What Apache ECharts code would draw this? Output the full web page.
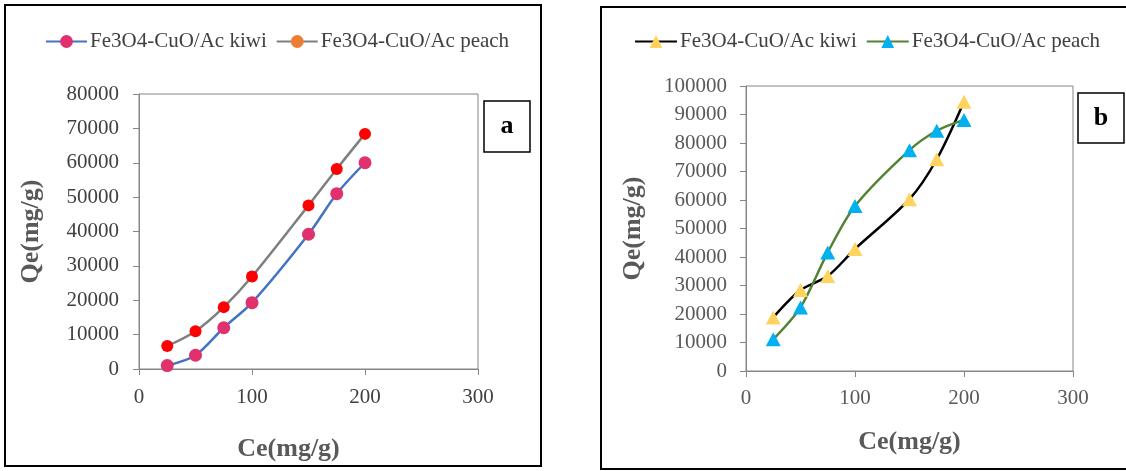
<!DOCTYPE html>
<html>
<head>
<meta charset="utf-8">
<script src="https://cdn.jsdelivr.net/npm/echarts@6/dist/echarts.min.js"></script>
<style>
html,body{margin:0;padding:0;background:#fff;}
#chart{width:1126px;height:471px;}
</style>
</head>
<body>
<div id="chart"></div>
<script>
// ---- data ----
const ceValues = [25, 50, 75, 100, 150, 175, 200];
const kiwiA = [1000, 4000, 12000, 19300, 39200, 51000, 60000];
const peachA = [6700, 11000, 18000, 26900, 47600, 58200, 68400];
const kiwiB = [18800, 28400, 33300, 42800, 60300, 74300, 94500];
const peachB = [11100, 22300, 41600, 57900, 77500, 84300, 88100];
const nameKiwi = 'Fe3O4-CuO/Ac kiwi';
const namePeach = 'Fe3O4-CuO/Ac peach';
const suffixB = ' (b)';
const xAxisTitle = 'Ce(mg/g)';
const yAxisTitle = 'Qe(mg/g)';
const panelLabels = ['a', 'b'];

const FONT = "'Liberation Serif', 'Times New Roman', serif";
const pair = (xs, ys) => xs.map((x, i) => [x, ys[i]]);
const plain = v => String(v);

const chart = echarts.init(document.getElementById('chart'));

function xAxisCfg(gridIndex, labelColor, gap, pad, margin) {
  return {
    gridIndex, type: 'value', min: 0, max: 300, interval: 100,
    splitLine: {show: false},
    axisLine: {show: true, lineStyle: {color: '#868686', width: 1}},
    axisTick: {show: true, length: 6, lineStyle: {color: '#868686'}},
    axisLabel: {color: labelColor, fontFamily: FONT, fontSize: 21, margin: margin, formatter: plain},
    name: xAxisTitle, nameLocation: 'middle', nameGap: gap,
    nameTextStyle: {color: '#595959', fontFamily: FONT, fontSize: 26, fontWeight: 'bold', padding: pad}
  };
}
function yAxisCfg(gridIndex, max, labelColor, gap, margin) {
  return {
    gridIndex, type: 'value', min: 0, max: max, interval: 10000,
    splitLine: {show: false},
    axisLine: {show: true, lineStyle: {color: '#868686', width: 1}},
    axisTick: {show: true, length: 6, lineStyle: {color: '#868686'}},
    axisLabel: {color: labelColor, fontFamily: FONT, fontSize: 21, margin: margin, formatter: plain},
    name: yAxisTitle, nameLocation: 'middle', nameGap: gap, nameRotate: 90,
    nameTextStyle: {color: '#595959', fontFamily: FONT, fontSize: 26, fontWeight: 'bold'}
  };
}

const option = {
  animation: false,
  backgroundColor: '#fff',
  grid: [
    {left: 139, top: 94, width: 339, height: 275, show: true, borderColor: '#868686', borderWidth: 1, containLabel: false},
    {left: 746, top: 86, width: 327, height: 285, show: true, borderColor: '#868686', borderWidth: 1, containLabel: false}
  ],
  xAxis: [
    xAxisCfg(0, '#404040', 67, [0, 40, 0, 0], 18),
    xAxisCfg(1, '#595959', 58, [0, 0, 0, 0], 17)
  ],
  yAxis: [
    yAxisCfg(0, 80000, '#404040', 95, 20),
    yAxisCfg(1, 100000, '#595959', 100, 19)
  ],
  legend: [
    {
      left: 45, top: 31, padding: 0, itemWidth: 41, itemHeight: 16, itemGap: 9, selectedMode: false,
      textStyle: {color: '#404040', fontFamily: FONT, fontSize: 21, padding: [0, 0, 0, -2]},
      data: [
        {name: nameKiwi},
        {name: namePeach, itemStyle: {color: '#ED7D31'}}
      ]
    },
    {
      left: 634, top: 31, padding: 0, itemWidth: 42, itemHeight: 16, itemGap: 9, selectedMode: false,
      textStyle: {color: '#404040', fontFamily: FONT, fontSize: 21, padding: [0, 0, 0, -2]},
      formatter: n => n.replace(suffixB, ''),
      data: [{name: nameKiwi + suffixB}, {name: namePeach + suffixB}]
    }
  ],
  series: [
    {
      name: nameKiwi, type: 'line', xAxisIndex: 0, yAxisIndex: 0, smooth: 0.3,
      data: pair(ceValues, kiwiA), symbol: 'circle', symbolSize: 13,
      itemStyle: {color: '#E0306E'}, lineStyle: {color: '#4472C4', width: 2.5}
    },
    {
      name: namePeach, type: 'line', xAxisIndex: 0, yAxisIndex: 0, smooth: 0.3,
      data: pair(ceValues, peachA), symbol: 'circle', symbolSize: 12,
      itemStyle: {color: '#FF0000'}, lineStyle: {color: '#7F7F7F', width: 2.5}
    },
    {
      name: nameKiwi + suffixB, type: 'line', xAxisIndex: 1, yAxisIndex: 1, smooth: 0.3,
      data: pair(ceValues, kiwiB), symbol: 'triangle', symbolSize: [15, 14],
      itemStyle: {color: '#FFD45E'}, lineStyle: {color: '#000000', width: 2.5}
    },
    {
      name: namePeach + suffixB, type: 'line', xAxisIndex: 1, yAxisIndex: 1, smooth: 0.3,
      data: pair(ceValues, peachB), symbol: 'triangle', symbolSize: [15, 14],
      itemStyle: {color: '#00B0F0'}, lineStyle: {color: '#548235', width: 2.5}
    }
  ],
  graphic: [
    {type: 'rect', shape: {x: 5, y: 5, width: 536, height: 461}, style: {fill: 'none', stroke: '#000', lineWidth: 2}, silent: true},
    {type: 'rect', shape: {x: 601, y: 7, width: 528, height: 462}, style: {fill: 'none', stroke: '#000', lineWidth: 2}, silent: true},
    {type: 'rect', shape: {x: 484, y: 101, width: 46, height: 51}, style: {fill: '#fff', stroke: '#000', lineWidth: 1.5}, silent: true},
    {type: 'text', x: 507, y: 126.5, style: {text: panelLabels[0], font: "bold 26px 'Liberation Serif'", fill: '#000', align: 'center', verticalAlign: 'middle'}, silent: true},
    {type: 'rect', shape: {x: 1078, y: 93, width: 46, height: 50}, style: {fill: '#fff', stroke: '#000', lineWidth: 1.5}, silent: true},
    {type: 'text', x: 1101, y: 118, style: {text: panelLabels[1], font: "bold 26px 'Liberation Serif'", fill: '#000', align: 'center', verticalAlign: 'middle'}, silent: true}
  ]
};
chart.setOption(option);
</script>
</body>
</html>
